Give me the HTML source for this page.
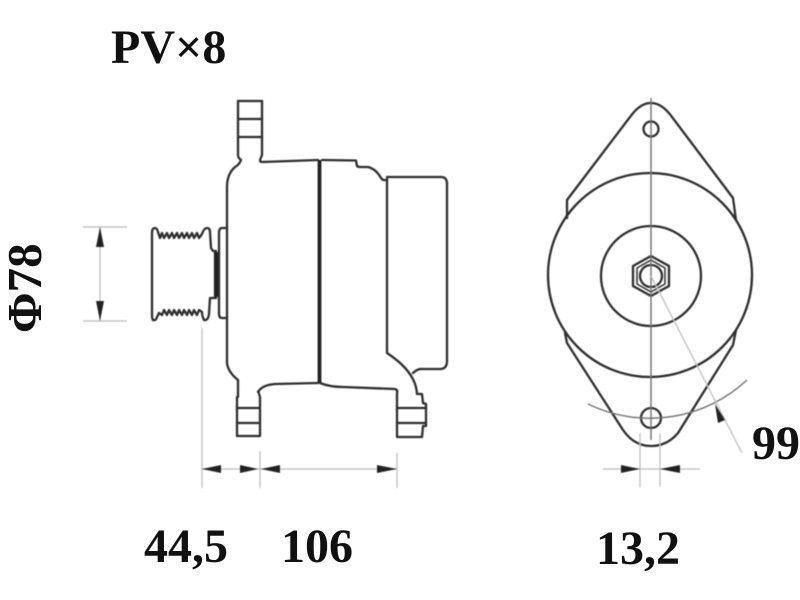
<!DOCTYPE html>
<html><head><meta charset="utf-8">
<style>
html,body{margin:0;padding:0;background:#fff;width:800px;height:600px;overflow:hidden}
svg{display:block}
text{font-family:"Liberation Serif",serif;font-weight:bold;fill:#111}
.k{fill:none;stroke:#2e2e2e;stroke-width:2.3;stroke-linejoin:round;stroke-linecap:round}
.g{fill:none;stroke:#c4c4c4;stroke-width:1.4}
.m{fill:none;stroke:#777;stroke-width:1.5}
.a{fill:#222;stroke:none}
</style></head><body>
<svg width="800" height="600" viewBox="0 0 800 600" xmlns="http://www.w3.org/2000/svg">
<g style="filter:blur(.5px)">
<!-- left view: body -->
<path class="k" d="M238,101 H262 M238,119 H262 M238,137 H262"/>
<path class="k" d="M238,101 V155 Q238,158 241,160 Q239,165 235,167 Q227,174 227,187 V363 Q228,372 238,380 V397 H237 V436 H260 V397 Q258,390 258,392 Q262,385 275,384 L318,383"/>
<path class="k" d="M262,101 V155 L260,160 Q260,162 262,162 L318,160"/>
<path class="k" d="M322,160 L356,160.5 L357,166 Q358,167 361,167 H368 Q376,169 381,178 L383,180 H387"/>
<path d="M319.5,160 V383" fill="none" stroke="#222" stroke-width="3.8"/>
<path class="k" d="M320,383 Q330,387 343,387 L395,389 Q398,390 397,393 V437 H422 L423,426 H426 V404 L423,403 L422,394 H417 Q416,372 387,353 V179"/>
<path class="k" d="M387,177 H441 Q447,177 447,184 V361 Q447,369 440,369 H420 Q416,370 413,373"/>
<path class="k" d="M237,408 H260 M237,423 H260"/>
<path class="k" d="M397,408 H426 M397,423 H426"/>
<!-- plate -->
<path class="k" d="M227,228 H222 Q219,228 219,233 V314 Q219,318 222,318 H227"/>
<path d="M216,252 V297" fill="none" stroke="#222" stroke-width="4.2"/>
<!-- pulley -->
<path class="k" d="M212,298 L210,298 L209,314 Q208,321 204,320 Q202,316 202,312 L199,310 L197,315 L194,310 L192,315 L189,310 L187,315 L184,310 L182,315 L179,310 L177,315 L174,310 L172,315 L169,310 L167,315 L164,310 L162,315 L159,313 L157,317 Q156,321 153,320 Q152,319 152,315 V233 Q152,228 155,228 Q157,228 158,232 L160,238 L162,233 L164,238 L167,233 L169,238 L172,233 L174,238 L177,233 L179,238 L182,233 L184,238 L187,233 L189,238 L192,233 L194,238 L197,233 L199,238 L202,234 Q204,228 207,228 Q210,228 210,232 L211,248 L213,251 H216"/>
<path class="k" d="M212,298 H216"/>
<!-- right view -->
<circle class="k" cx="650" cy="275" r="102"/>
<circle class="k" cx="651" cy="276" r="50"/>
<path class="k" d="M567,218 V200 L630,117 Q640,103 651,103 Q662,103 672,117 L733,198 L736,220"/>
<path class="k" d="M565,333 L567,343 L623,430 Q634,446 651,446 Q667,446 678,433 L733,345 L736,330"/>
<circle class="k" cx="651" cy="129" r="7.5"/>
<circle class="k" cx="651" cy="418" r="10"/>
<path class="k" d="M651,256 L669,266 V286 L651,296 L633,286 V266 Z"/>
<path class="k" style="stroke-width:1.5" d="M651,260 L665,268 V284 L651,292 L637,284 V268 Z"/>
<circle class="k" cx="651" cy="276" r="11"/>
<path class="m" d="M651,98 V440"/>
<path class="m" d="M588,404 A142,142 0 0 0 747,380" stroke="#888"/>
<path class="g" d="M651,276 L742,453"/>
<path class="a" d="M715,404 L725,420 L718,423 Z"/>
<!-- 13,2 -->
<path class="g" d="M640,433 V487 M660,433 V487 M603,469 H700"/>
<path class="a" d="M640,469 L621,465 V473 Z M660,469 L680,465 V473 Z"/>
<!-- phi 78 -->
<path class="g" d="M83,227 H127 M83,321 H127 M100,227 V321"/>
<path class="a" d="M100,227 L96,247 H104 Z M100,321 L96,301 H104 Z"/>
<!-- bottom dims -->
<path class="g" d="M202,328 V488 M260,451 V488 M397,453 V488 M202,469 H397"/>
<path class="a" d="M202,469 L221,465 V473 Z M258,469 L240,465 V473 Z M261,469 L280,465 V473 Z M397,469 L377,465 V473 Z"/>
</g>
<text x="111" y="63" font-size="48">PV×8</text>
<text x="144" y="562" font-size="48">44,5</text>
<text x="281" y="562" font-size="48">106</text>
<text x="596" y="564" font-size="48">13,2</text>
<text x="752" y="459" font-size="48">99</text>
<text transform="translate(41,333) rotate(-90)" font-size="49">Φ78</text>
</svg>
</body></html>
